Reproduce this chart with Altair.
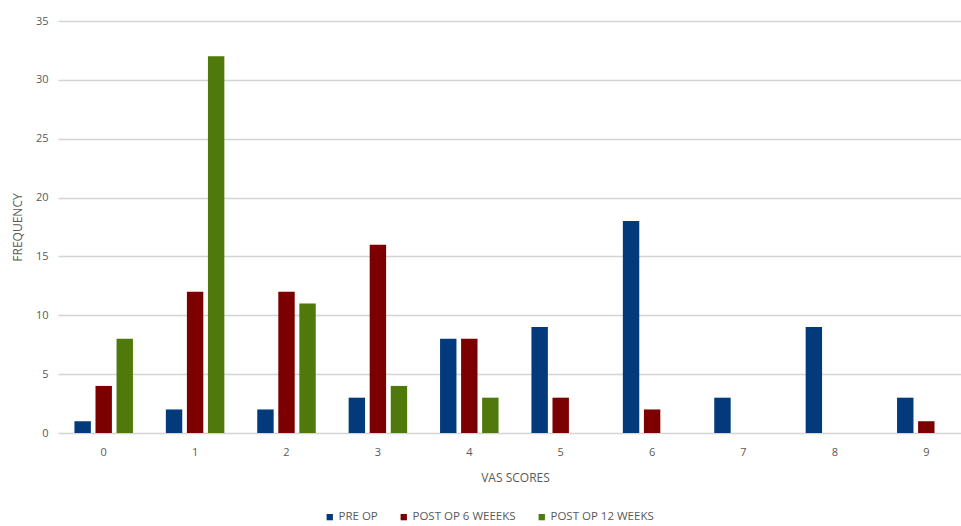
import altair as alt
import pandas as pd

# VAS score frequencies per assessment time
scores = [0, 1, 2, 3, 4, 5, 6, 7, 8, 9]
pre_op = [1, 2, 2, 3, 8, 9, 18, 3, 9, 3]
post_6_weeks = [4, 12, 12, 16, 8, 3, 2, 0, 0, 1]
post_12_weeks = [8, 32, 11, 4, 3, 0, 0, 0, 0, 0]

series_names = ["PRE OP", "POST OP 6 WEEEKS", "POST OP 12 WEEKS"]
series_colors = ["#033a7b", "#7c0000", "#4f790b"]

rows = []
for name, values in zip(series_names, [pre_op, post_6_weeks, post_12_weeks]):
    for s, v in zip(scores, values):
        rows.append({"score": s, "series": name, "frequency": v})
df = pd.DataFrame(rows)

FONT = "Open Sans"
TXT = "#595959"

chart = (
    alt.Chart(df)
    .mark_bar()
    .encode(
        x=alt.X(
            "score:O",
            title="VAS SCORES",
            scale=alt.Scale(paddingInner=0.36, paddingOuter=0.18, range=[0, 914]),
            axis=alt.Axis(
                labelAngle=0,
                labelPadding=13,
                ticks=False,
                domain=False,
                titleY=48,
                titleBaseline="alphabetic",
                titleFontWeight="normal",
            ),
        ),
        xOffset=alt.XOffset(
            "series:N",
            sort=series_names,
            scale=alt.Scale(paddingInner=0.22, paddingOuter=0),
        ),
        y=alt.Y(
            "frequency:Q",
            title="FREQUENCY",
            scale=alt.Scale(domain=[0, 35]),
            axis=alt.Axis(
                values=[0, 5, 10, 15, 20, 25, 30, 35],
                ticks=False,
                domain=False,
                labelPadding=10,
                titleX=-41,
                titleBaseline="middle",
                titleFontWeight="normal",
                gridColor="#d4d4d4",
                gridWidth=1.5,
            ),
        ),
        color=alt.Color(
            "series:N",
            sort=series_names,
            scale=alt.Scale(domain=series_names, range=series_colors),
            legend=alt.Legend(
                title=None,
                orient="none",
                direction="horizontal",
                legendX=266,
                legendY=490,
                symbolType="square",
                symbolSize=40,
                symbolStrokeWidth=0,
                columnPadding=20,
                labelOffset=3,
                labelFontSize=11.5,
            ),
        ),
    )
    .properties(
        width=903,
        height=412,
        autosize=alt.AutoSizeParams(type="none"),
        padding={"left": 58, "top": 21, "right": 0, "bottom": 93},
    )
    .configure_view(stroke=None)
    .configure_axis(
        labelFont=FONT,
        titleFont=FONT,
        labelColor=TXT,
        titleColor=TXT,
        labelFontSize=11,
        titleFontSize=12,
    )
    .configure_legend(labelFont=FONT, labelColor=TXT)
)

chart.save("out.html", embed_options={"renderer": "svg", "actions": False})
